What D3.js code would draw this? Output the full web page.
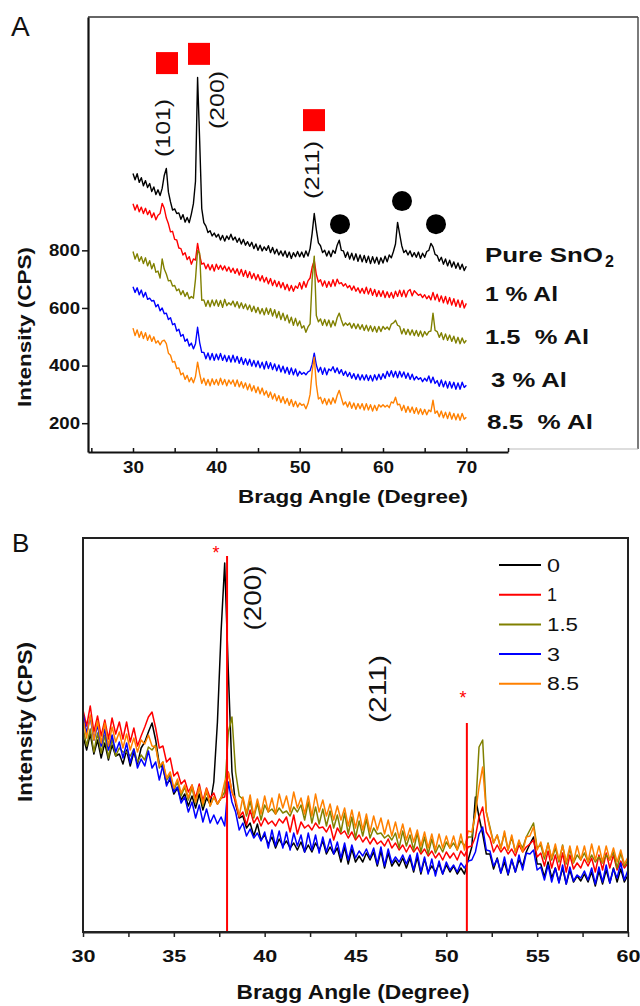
<!DOCTYPE html>
<html>
<head>
<meta charset="utf-8">
<script src="https://cdn.jsdelivr.net/npm/d3@7"></script>
<style>
  body { margin: 0; background: #fff; }
  svg { display: block; }
  text { font-family: "Liberation Sans", Arial, Helvetica, sans-serif; }
</style>
</head>
<body>
<svg id="fig" width="640" height="1006"></svg>
<script>
// ---------- Panel A: offset XRD patterns, 0.25° step from 30° to 70° (CPS) ----------
const startA = 30, stepA = 0.25;
const samplesA = ["Pure SnO2", "1 % Al", "1.5  % Al", "3 % Al", "8.5  % Al"];
const pureSnO2A = [
  1067,1045,1066,1036,1052,1024,1042,1018, 1032,1004,1020,994,1010,990,1015,1060,
  1084,1002,968,940,944,928,930,908, 924,898,914,896,926,962,1040,1400,
  1180,945,896,884,862,868,850,860, 846,856,836,852,832,850,838,856,
  836,846,828,842,822,838,818,830, 814,828,806,822,800,818,798,812,
  800,816,792,810,788,804,784,798, 780,798,776,794,772,792,778,796,
  778,794,776,798,780,806,860,928, 872,826,816,792,800,780,798,778,
  800,790,818,835,800,798,776,794, 770,790,766,788,762,784,760,782,
  758,780,754,778,756,776,752,774, 756,780,760,784,774,796,822,897,
  856,816,792,800,784,798,778,792, 776,794,772,790,776,796,800,824,
  812,786,782,762,776,752,770,746, 766,742,760,738,756,734,752,730, 745];
const al1A = [
  962,940,958,934,950,928,946,924, 938,914,930,906,922,928,963,946,
  912,892,864,866,838,836,808,806, 784,792,768,778,752,770,766,824,
  782,752,756,736,752,732,750,728, 752,734,748,732,746,728,742,724,
  738,720,736,714,734,710,730,706, 726,702,720,698,716,694,712,690,
  706,684,702,678,696,674,692,670, 688,664,682,660,678,658,676,668,
  688,666,692,672,694,704,742,765, 716,690,698,676,694,672,692,674,
  698,676,700,684,688,676,684,670, 678,662,676,658,670,652,668,650,
  672,648,668,644,664,640,660,640, 660,636,656,636,654,634,658,640,
  662,640,662,638,658,664,642,660, 652,644,648,636,646,632,642,628,
  654,628,648,622,642,618,640,614, 636,610,632,606,628,602,626,600, 616];
const al15A = [
  796,770,788,762,778,754,774,746, 764,736,754,724,728,704,770,735,
  718,694,696,676,678,660,666,646, 660,640,654,632,640,634,700,800,
  790,627,628,606,626,604,628,608, 628,606,626,602,630,608,618,610,
  624,604,622,600,618,598,614,594, 610,588,606,584,602,580,598,576,
  600,578,598,572,594,566,588,560, 582,556,576,548,568,540,564,538,
  555,530,538,516,534,545,700,780, 574,552,562,540,560,538,558,534,
  556,538,566,582,558,538,548,540, 548,530,546,528,544,526,542,522,
  540,520,538,518,536,516,536,518, 536,526,534,524,544,548,557,540,
  536,510,528,508,526,506,524,504, 522,502,520,500,518,506,518,520,
  582,522,518,498,514,490,510,488, 506,484,502,478,498,476,496,478, 488];
const al3A = [
  674,654,670,646,662,638,654,630, 634,624,626,604,612,590,600,580,
  582,560,566,542,546,520,526,502, 508,484,492,468,478,458,476,533,
  480,446,446,424,444,420,442,418, 440,420,442,418,436,414,434,412,
  436,412,432,408,428,404,424,402, 422,398,418,396,416,392,412,388,
  414,390,410,386,406,382,402,378, 398,374,394,370,392,368,388,364,
  380,370,376,368,378,382,405,443, 402,378,394,370,392,368,388,382,
  396,376,392,372,386,366,380,362, 376,356,372,352,370,350,368,350,
  368,348,366,346,368,350,370,352, 372,356,380,362,382,360,380,358,
  380,360,378,356,374,352,370,350, 362,352,358,344,356,346,364,340,
  360,338,348,328,350,326,346,322, 344,322,342,318,340,318,342,324, 332];
const al85A = [
  530,504,524,498,518,494,514,488, 506,484,500,478,486,472,485,488,
  476,443,436,412,414,390,392,368, 374,352,366,344,358,340,362,412,
  372,338,356,332,352,330,354,334, 352,332,356,334,352,330,350,336,
  350,328,350,326,344,322,340,316, 336,312,330,306,326,302,322,298,
  312,290,308,284,302,278,296,272, 292,268,286,262,282,258,276,256,
  270,262,266,250,268,300,380,429, 334,284,290,268,286,264,284,266,
  288,270,296,314,288,264,274,256, 274,252,270,248,268,250,268,246,
  268,246,264,242,262,244,264,256, 264,256,262,254,274,270,290,264,
  266,244,262,238,258,238,256,234, 254,232,250,230,248,229,246,240,
  280,234,242,222,242,219,238,216, 238,214,234,212,232,210,234,214, 221];

const xTicksA = [30, 40, 50, 60, 70];
const yTicksA = [200, 400, 600, 800];
// SnO2 reflections (red squares) and secondary phase peaks (black dots), [angle, CPS]
const squaresA = [[34.08, 1450], [37.92, 1482], [51.72, 1252]];
const dotsA = [[54.84, 891], [62.28, 971], [66.36, 891]];
const hklA = [["(101)", 33.6, 1225], ["(200)", 40.08, 1322], ["(211)", 51.48, 1079]];

// ---------- Panel B: overlaid patterns, 0.2° step from 30° to 60° (a.u.) ----------
const startB = 30, stepB = 0.2;
const legendB = ["0", "1", "1.5", "3", "8.5"];
const al0B = [
  196,182,198,178,192,174,189,172,187,176, 178,168,182,166,180,168,184,190,200,209,
  192,168,164,148,152,138,144,132,138,126, 136,124,138,122,134,128,150,210,300,369,
  260,160,128,114,116,104,109,96,108,92, 97,88,95,84,93,86,91,84,89,82,
  90,80,87,80,89,82,91,78,85,78, 84,70,85,68,83,70,76,70,79,72,
  80,66,81,64,79,66,72,66,74,64, 74,60,75,58,73,60,66,60,68,58,
  67,60,66,58,64,58,72,85,135,115, 98,78,78,63,74,59,70,57,72,60,
  72,66,80,88,95,68,68,55,70,54, 64,50,64,48,62,50,56,51,58,50,
  60,46,61,48,62,49,64,50,63,50, 57];
const al1B = [
  222,206,226,200,216,196,212,193,214,198, 210,193,210,190,204,186,196,205,215,220,
  204,184,186,170,174,156,160,148,152,140, 147,134,148,131,144,134,139,128,134,135,
  160,140,130,115,120,107,122,109,115,106, 114,108,111,106,113,109,115,100,117,98,
  110,104,107,102,109,104,105,100,107,92, 104,98,101,94,100,92,97,90,95,88,
  94,88,91,86,93,84,89,82,87,80, 87,80,85,78,83,76,81,74,79,72,
  80,74,79,72,81,76,85,86,95,115, 125,100,94,80,87,80,85,78,83,76,
  87,80,85,88,92,75,79,66,81,64, 77,62,79,60,77,63,69,64,73,66,
  74,60,77,62,79,64,77,62,71,64, 69];
const al15B = [
  204,186,203,180,199,179,197,174,193,176, 184,180,180,176,183,170,177,172,185,182,
  187,164,170,152,157,142,150,136,145,132, 144,129,145,126,141,126,135,128,134,140,
  200,215,160,136,133,116,131,114,129,112, 127,120,123,118,124,119,121,116,125,120,
  127,112,130,109,125,108,123,106,121,104, 117,100,119,98,115,94,111,96,113,94,
  104,98,99,94,97,92,99,84,101,86, 97,82,99,80,95,78,93,79,87,80,
  90,84,89,82,91,86,95,95,120,185, 192,120,105,89,97,84,99,82,95,80,
  90,84,95,102,109,84,87,73,89,72, 84,70,87,68,83,69,77,72,79,70,
  77,70,75,69,77,72,80,64,79,66, 72];
const al3B = [
  219,199,215,192,207,186,203,182,197,180, 190,174,189,169,183,164,173,166,181,164,
  170,152,167,146,155,140,145,129,135,120, 130,114,127,110,123,109,117,108,115,106,
  150,130,120,102,109,96,103,94,99,91, 100,84,102,86,101,84,100,82,99,86,
  97,80,99,82,97,79,95,80,93,78, 90,74,89,72,87,74,81,76,83,74,
  84,68,85,66,83,69,75,70,77,68, 77,62,79,60,75,58,73,56,71,58,
  70,62,67,60,69,64,71,72,80,98, 105,82,81,66,73,59,75,58,73,60,
  77,62,79,78,82,62,65,52,67,50, 64,49,67,48,65,51,57,54,61,52,
  64,48,65,50,67,49,63,54,69,52, 62];
const al85B = [
  214,194,217,192,211,189,209,186,205,190, 200,184,198,182,194,180,192,188,197,186,
  185,166,170,154,160,144,153,139,147,134, 147,130,145,128,143,126,135,128,134,150,
  159,140,133,116,135,119,137,116,133,118, 136,120,134,118,138,124,136,120,140,124,
  134,118,136,116,138,120,132,116,128,112, 126,112,124,106,122,104,120,102,118,100,
  116,102,114,98,112,96,110,94,108,92, 104,90,102,86,100,84,98,82,98,84,
  96,84,96,82,98,82,101,100,118,145, 165,120,103,89,97,83,101,82,97,80,
  92,80,95,96,105,82,90,76,88,74, 88,72,86,70,86,70,86,72,86,70,
  88,72,86,70,86,72,84,70,82,68, 75];

const xTicksB = [30, 35, 40, 45, 50, 55, 60];
// reference lines (angle, top level) and their asterisk marks (angle, level)
const refLinesB = [[37.93, 376], [51.13, 209]];
const starsB = [[37.32, 382], [50.92, 237]];
const hklB = [["(200)", 39.36, 334], ["(211)", 46.24, 243]];

// ---------- drawing ----------
const colors = ["#000000", "#ff0000", "#808000", "#0000ff", "#ff8000"];
const svg = d3.select("#fig");

function fit(sel, len) {
  return sel.attr("textLength", len).attr("lengthAdjust", "spacingAndGlyphs");
}

// ===== Panel A =====
const xA = d3.scaleLinear().domain([24.6, 75]).range([88, 508]);
const yA = d3.scaleLinear().domain([100, 1610]).range([452, 17]);
const gA = svg.append("g");

// open frame: top and right edges, faint lower-right segment
gA.append("line").attr("x1", 88).attr("x2", 638).attr("y1", 17).attr("y2", 17)
  .attr("stroke", "#333").attr("stroke-width", 1.6);
gA.append("line").attr("x1", 638).attr("x2", 638).attr("y1", 17).attr("y2", 449)
  .attr("stroke", "#444").attr("stroke-width", 1.4);
gA.append("line").attr("x1", 508).attr("x2", 638).attr("y1", 449).attr("y2", 449)
  .attr("stroke", "#bbb").attr("stroke-width", 1);

const axA = gA.append("g").attr("transform", "translate(0,452)")
  .call(d3.axisBottom(xA).tickValues(d3.range(25, 76, 5)).tickSizeInner(-4).tickSizeOuter(0)
    .tickPadding(10).tickFormat(d => xTicksA.includes(d) ? d : ""));
axA.select(".domain").attr("stroke", "#111").attr("stroke-width", 2.2);
axA.selectAll(".tick line").attr("stroke", "#111").attr("stroke-width", 1.5);
axA.selectAll(".tick text").attr("font-size", 16).attr("font-weight", "bold").attr("fill", "#111")
  .each(function (d) { if (xTicksA.includes(d)) fit(d3.select(this), 21); });

const ayA = gA.append("g").attr("transform", "translate(88,0)")
  .call(d3.axisLeft(yA).tickValues(yTicksA).tickSizeInner(6).tickSizeOuter(0).tickPadding(2));
ayA.select(".domain").attr("stroke", "#111").attr("stroke-width", 2.2);
ayA.selectAll(".tick line").attr("stroke", "#111").attr("stroke-width", 1.5);
ayA.selectAll(".tick text").attr("font-size", 16).attr("font-weight", "bold").attr("fill", "#111")
  .call(s => fit(s, 31));

fit(gA.append("text").attr("x", 353).attr("y", 503).attr("text-anchor", "middle")
  .attr("font-size", 19).attr("font-weight", "bold").attr("fill", "#111")
  .text("Bragg Angle (Degree)"), 230);
fit(gA.append("text").attr("transform", "translate(31,327) rotate(-90)").attr("text-anchor", "middle")
  .attr("font-size", 19).attr("font-weight", "bold").attr("fill", "#111")
  .text("Intensity (CPS)"), 160);
gA.append("text").attr("x", 11).attr("y", 36).attr("font-size", 28).attr("fill", "#111").text("A");

const lineA = d3.line().x((d, i) => xA(startA + i * stepA)).y(d => yA(d));
[pureSnO2A, al1A, al15A, al3A, al85A].forEach((s, k) => {
  gA.append("path").datum(s).attr("d", lineA).attr("fill", "none")
    .attr("stroke", colors[k]).attr("stroke-width", 1.4).attr("stroke-linejoin", "round");
});

gA.selectAll("rect.sq").data(squaresA).join("rect").attr("class", "sq")
  .attr("x", d => xA(d[0]) - 11).attr("y", d => yA(d[1]) - 11)
  .attr("width", 22).attr("height", 22).attr("fill", "#ff0000");
gA.selectAll("circle.dot").data(dotsA).join("circle").attr("class", "dot")
  .attr("cx", d => xA(d[0])).attr("cy", d => yA(d[1])).attr("r", 10).attr("fill", "#000");
gA.selectAll("text.hkl").data(hklA).join("text").attr("class", "hkl")
  .attr("transform", d => `translate(${xA(d[1])},${yA(d[2])}) rotate(-90)`)
  .attr("text-anchor", "middle").attr("dy", "0.35em").attr("font-size", 21).attr("fill", "#111")
  .text(d => d[0]).each(function () { fit(d3.select(this), 58); });

// sample names at the right end of each trace
const nameX = [485, 485, 485, 491, 487];
const nameY = [262, 301, 344, 387, 429];
const nameW = [118, 73, 104, 76, 106];
samplesA.forEach((name, k) => {
  const base = k === 0 ? "Pure SnO" : name;
  fit(gA.append("text").attr("x", nameX[k]).attr("y", nameY[k]).attr("font-size", 21)
    .attr("font-weight", "bold").attr("fill", "#111").style("white-space", "pre")
    .text(base), nameW[k]);
  if (k === 0) {
    gA.append("text").attr("x", 605).attr("y", nameY[k] + 5).attr("font-size", 16)
      .attr("font-weight", "bold").attr("fill", "#111").text("2");
  }
});

// ===== Panel B =====
const xB = d3.scaleLinear().domain([30, 60]).range([83, 628]);
const yB = d3.scaleLinear().domain([0, 400]).range([932, 532]);
const gB = svg.append("g");

const lineB = d3.line().x((d, i) => xB(startB + i * stepB)).y(d => yB(d));
[al0B, al1B, al15B, al3B, al85B].forEach((s, k) => {
  gB.append("path").datum(s).attr("d", lineB).attr("fill", "none")
    .attr("stroke", colors[k]).attr("stroke-width", 1.5).attr("stroke-linejoin", "round");
});

gB.selectAll("line.ref").data(refLinesB).join("line").attr("class", "ref")
  .attr("x1", d => xB(d[0])).attr("x2", d => xB(d[0]))
  .attr("y1", yB(0)).attr("y2", d => yB(d[1]))
  .attr("stroke", "#ff0000").attr("stroke-width", 2);
gB.selectAll("text.star").data(starsB).join("text").attr("class", "star")
  .attr("x", d => xB(d[0])).attr("y", d => yB(d[1])).attr("dy", "0.5em")
  .attr("text-anchor", "middle").attr("font-size", 18).attr("fill", "#ff0000").text("*");

gB.append("rect").attr("x", 83).attr("y", 538).attr("width", 545).attr("height", 394)
  .attr("fill", "none").attr("stroke", "#222").attr("stroke-width", 2);

const axB = gB.append("g").attr("transform", "translate(0,932)")
  .call(d3.axisBottom(xB).tickValues(d3.range(30, 60.1, 2.5)).tickSizeInner(5).tickSizeOuter(0)
    .tickPadding(13).tickFormat(d => xTicksB.includes(d) ? d : ""));
axB.select(".domain").attr("stroke", "#222").attr("stroke-width", 2);
axB.selectAll(".tick line").attr("stroke", "#222").attr("stroke-width", 1.5);
axB.selectAll(".tick text").attr("font-size", 17).attr("font-weight", "bold").attr("fill", "#111")
  .each(function (d) { if (xTicksB.includes(d)) fit(d3.select(this), 24); });

fit(gB.append("text").attr("x", 353).attr("y", 999).attr("text-anchor", "middle")
  .attr("font-size", 20).attr("font-weight", "bold").attr("fill", "#111")
  .text("Bragg Angle (Degree)"), 233);
fit(gB.append("text").attr("transform", "translate(32,722) rotate(-90)").attr("text-anchor", "middle")
  .attr("font-size", 20).attr("font-weight", "bold").attr("fill", "#111")
  .text("Intensity (CPS)"), 160);
gB.append("text").attr("x", 12).attr("y", 552).attr("font-size", 26).attr("fill", "#111").text("B");

gB.selectAll("text.hkl").data(hklB).join("text").attr("class", "hkl")
  .attr("transform", d => `translate(${xB(d[1])},${yB(d[2])}) rotate(-90)`)
  .attr("text-anchor", "middle").attr("dy", "0.35em").attr("font-size", 24).attr("fill", "#111")
  .text(d => d[0]).each(function (d) { fit(d3.select(this), d[0] === "(200)" ? 65 : 68); });

// legend
const legW = [13, 10, 31, 13, 32];
const leg = gB.selectAll("g.leg").data(legendB).join("g").attr("class", "leg")
  .attr("transform", (d, i) => `translate(499,${565 + i * 29.7})`);
leg.append("line").attr("x1", 0).attr("x2", 42).attr("y1", 0).attr("y2", 0)
  .attr("stroke", (d, i) => colors[i]).attr("stroke-width", 2);
leg.append("text").attr("x", 48).attr("y", 6.5).attr("font-size", 18).attr("fill", "#111")
  .text(d => d).each(function (d, i) { fit(d3.select(this), legW[i]); });
</script>
</body>
</html>
